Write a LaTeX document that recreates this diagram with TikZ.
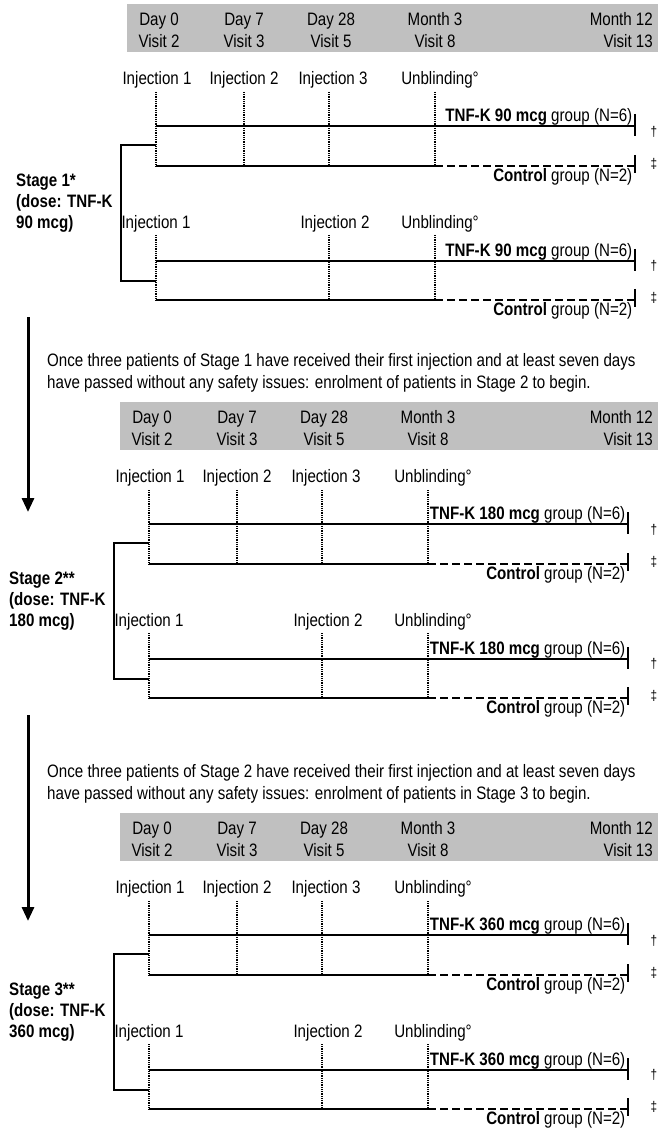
\documentclass[tikz,border=0pt]{standalone}
\usepackage{fontspec}
\setmainfont{Liberation Sans}[FakeStretch=0.84]
\usepackage{xcolor}
\usepackage{tikz}
\usetikzlibrary{arrows.meta, positioning}
\definecolor{hdrgray}{RGB}{192,192,192}

\begin{document}
\begin{tikzpicture}[
    lbl/.style={font=\fontsize{18}{22}\selectfont, inner sep=0pt},
    hdr/.style={lbl, align=center},
    grp/.style={lbl, inner sep=0.5pt},
    stg/.style={font=\fontsize{18}{21}\selectfont\bfseries, align=left,
                inner sep=0pt, anchor=west},
    note/.style={font=\fontsize{18}{22}\selectfont, align=left,
                 inner sep=0pt, anchor=west},
    dag/.style={font=\fontsize{14}{14}\selectfont, inner sep=0pt},
    arm/.style={line width=1.3pt},
    inj/.style={line width=1.6pt, dash pattern=on 0.9pt off 0.9pt},
    ctl/.style={line width=1.6pt, dash pattern=on 8pt off 4pt},
    bigarr/.style={-{Triangle[width=12pt, length=14pt]}, line width=3pt},
    x=1pt, y=-1pt
  ]
  \useasboundingbox (0,0) rectangle (658,1131);

  \foreach \s/\dose/\stmark/\dx/\oy in {1/90/*/0/0, 2/180/**/-7/398,
                                        3/360/**/-7/809} {
    \pgfmathsetmacro{\xr}{658-\dx}
    \begin{scope}[shift={(\dx,\oy)}]
      % visit header
      \fill[hdrgray] (127,4) rectangle (\xr,52);
      \node[hdr] (va\s) at (159,30) {Day 0\\Visit 2};
      \node[hdr] (vb\s) at (244,30) {Day 7\\Visit 3};
      \node[hdr] (vc\s) at (331,30) {Day 28\\Visit 5};
      \node[hdr] (vd\s) at (435,30) {Month 3\\Visit 8};
      \node[hdr, align=right, anchor=east] (ve\s) at (\xr-5,30)
        {Month 12\\Visit 13};

      % three injections
      \node[lbl] (ia\s) at (157,80) {Injection 1};
      \node[lbl] (ib\s) at (244,80) {Injection 2};
      \node[lbl] (ic\s) at (333,80) {Injection 3};
      \node[lbl] (iu\s) at (440,80) {Unblinding°};
      \draw[inj] (156,92) -- (156,166);
      \draw[inj] (244,92) -- (244,166);
      \draw[inj] (329,92) -- (329,166);
      \draw[inj] (435,92) -- (435,166);
      \draw[arm] (156,126) -- (635,126);
      \draw[arm] (156,166) -- (435,166);
      \draw[ctl] (435,166) -- (635,166);
      \draw[arm] (635,114) -- (635,136);
      \draw[arm] (635,155) -- (635,173);
      \node[grp, anchor=south east] (ta\s) at (633,126)
        {\textbf{TNF-K \dose\ mcg} group (N=6)};
      \node[grp, anchor=north east] (ca\s) at (633,168)
        {\textbf{Control} group (N=2)};
      \node[dag] (da\s) at (\xr-4,132) {\textdagger};
      \node[dag] (db\s) at (\xr-4,164) {\textdaggerdbl};

      % two injections
      \node[lbl] (ja\s) at (156,224) {Injection 1};
      \node[lbl] (jb\s) at (335,224) {Injection 2};
      \node[lbl] (ju\s) at (440,224) {Unblinding°};
      \draw[inj] (156,235) -- (156,300);
      \draw[inj] (329,235) -- (329,300);
      \draw[inj] (435,235) -- (435,300);
      \draw[arm] (156,261) -- (635,261);
      \draw[arm] (156,300) -- (435,300);
      \draw[ctl] (435,300) -- (635,300);
      \draw[arm] (635,249) -- (635,271);
      \draw[arm] (635,289) -- (635,307);
      \node[grp, anchor=south east] (tb\s) at (633,261)
        {\textbf{TNF-K \dose\ mcg} group (N=6)};
      \node[grp, anchor=north east] (cb\s) at (633,302)
        {\textbf{Control} group (N=2)};
      \node[dag] (dc\s) at (\xr-4,266) {\textdagger};
      \node[dag] (dd\s) at (\xr-4,298) {\textdaggerdbl};

      % stage bracket
      \coordinate (bt\s) at (156,145);
      \coordinate (bb\s) at (156,281);
      \draw[arm] (bt\s) -- ++(-35,0) |- (bb\s);
      \node[stg] (st\s) at (16,203)
        {Stage \s\stmark\\(dose: TNF-K\\\dose\ mcg)};
    \end{scope}
  }

  % go-ahead to next stage
  \foreach \s/\n/\ty/\ay/\by in {1/2/373/317/512, 2/3/784/715/921} {
    \coordinate (aa\s) at (28,\ay);
    \coordinate (ab\s) at (28,\by);
    \draw[bigarr] (aa\s) -- (ab\s);
    \node[note] (nt\s) at (47,\ty)
      {Once three patients of Stage \s\ have received their first injection and at least seven days\\
       have passed without any safety issues: enrolment of patients in Stage \n\ to begin.};
  }
\end{tikzpicture}
\end{document}
